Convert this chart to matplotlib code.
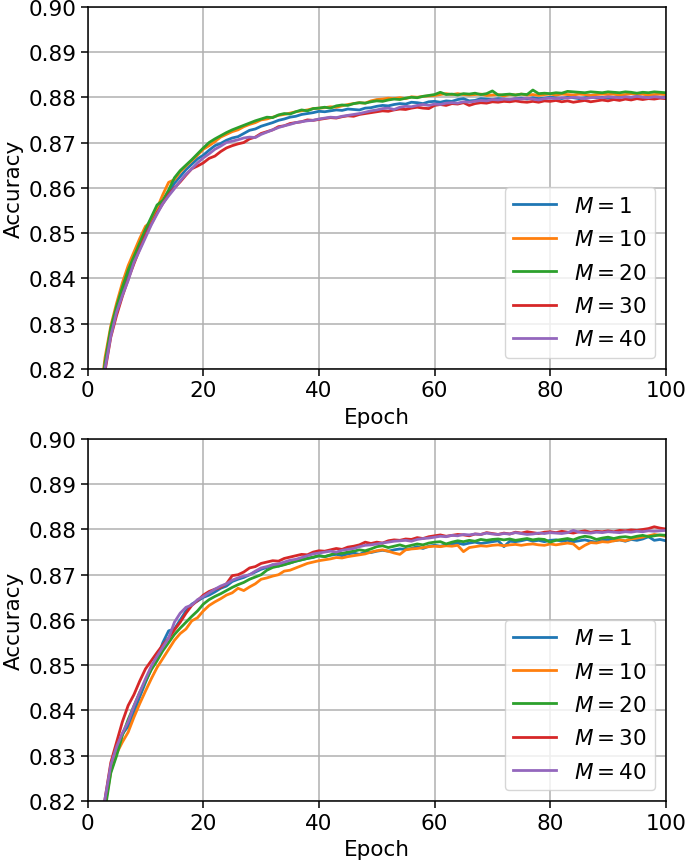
import numpy as np
import matplotlib
matplotlib.use("Agg")
import matplotlib.pyplot as plt

epochs = np.arange(1, 101)
labels = ["$M = 1$", "$M = 10$", "$M = 20$", "$M = 30$", "$M = 40$"]

# ---- top panel ----
top_m1 = [
    0.795, 0.810, 0.8205, 0.8280, 0.8330, 0.8372, 0.8410, 0.8442, 0.8472, 0.8500,
    0.8525, 0.8550, 0.8570, 0.8590, 0.8610, 0.8625, 0.8640, 0.8652, 0.8664, 0.8672,
    0.8683, 0.8693, 0.8698, 0.8705, 0.8710, 0.8713, 0.8720, 0.8727, 0.8730, 0.8736,
    0.8740, 0.8744, 0.8749, 0.8752, 0.8756, 0.8758, 0.8762, 0.8764, 0.8766, 0.8769,
    0.8768, 0.8770, 0.8772, 0.8771, 0.8774, 0.8773, 0.8772, 0.8776, 0.8777, 0.8780,
    0.8782, 0.8781, 0.8784, 0.8786, 0.8785, 0.8789, 0.8788, 0.8786, 0.8790, 0.8791,
    0.8789, 0.8792, 0.8791, 0.8795, 0.8797, 0.8792, 0.8793, 0.8797, 0.8796, 0.8795,
    0.8797, 0.8796, 0.8794, 0.8797, 0.8798, 0.8796, 0.8799, 0.8797, 0.8798, 0.8800,
    0.8799, 0.8797, 0.8800, 0.8799, 0.8797, 0.8799, 0.8801, 0.8799, 0.8800, 0.8798,
    0.8800, 0.8802, 0.8800, 0.8799, 0.8801, 0.8800, 0.8802, 0.8801, 0.8800, 0.8801,
]
top_m10 = [
    0.797, 0.812, 0.8225, 0.8295, 0.8345, 0.8390, 0.8428, 0.8458, 0.8488, 0.8515,
    0.8525, 0.8555, 0.8585, 0.8612, 0.8618, 0.8635, 0.8648, 0.8660, 0.8672, 0.8685,
    0.8693, 0.8702, 0.8712, 0.8718, 0.8724, 0.8728, 0.8735, 0.8740, 0.8744, 0.8750,
    0.8752, 0.8756, 0.8760, 0.8762, 0.8765, 0.8768, 0.8770, 0.8772, 0.8775, 0.8776,
    0.8777, 0.8779, 0.8778, 0.8781, 0.8784, 0.8786, 0.8788, 0.8787, 0.8792, 0.8795,
    0.8796, 0.8798, 0.8797, 0.8799, 0.8797, 0.8801, 0.8800, 0.8802, 0.8803, 0.8804,
    0.8806, 0.8808, 0.8806, 0.8808, 0.8806, 0.8805, 0.8806, 0.8807, 0.8804, 0.8805,
    0.8806, 0.8803, 0.8806, 0.8805, 0.8807, 0.8805, 0.8806, 0.8804, 0.8806, 0.8807,
    0.8805, 0.8807, 0.8806, 0.8805, 0.8807, 0.8806, 0.8804, 0.8806, 0.8807, 0.8806,
    0.8807, 0.8805, 0.8806, 0.8808, 0.8806, 0.8807, 0.8805, 0.8806, 0.8807, 0.8806,
]
top_m20 = [
    0.796, 0.811, 0.8215, 0.8290, 0.8338, 0.8380, 0.8418, 0.8448, 0.8478, 0.8508,
    0.8535, 0.8562, 0.8572, 0.8595, 0.8622, 0.8638, 0.8650, 0.8662, 0.8675, 0.8688,
    0.8700, 0.8708, 0.8715, 0.8722, 0.8728, 0.8733, 0.8738, 0.8743, 0.8748, 0.8752,
    0.8756, 0.8755, 0.8761, 0.8764, 0.8763, 0.8768, 0.8772, 0.8770, 0.8775, 0.8776,
    0.8778, 0.8776, 0.8781, 0.8783, 0.8782, 0.8786, 0.8788, 0.8787, 0.8790, 0.8792,
    0.8791, 0.8794, 0.8796, 0.8795, 0.8798, 0.8800, 0.8799, 0.8802, 0.8804, 0.8806,
    0.8811, 0.8806, 0.8807, 0.8805, 0.8808, 0.8807, 0.8809, 0.8806, 0.8808, 0.8814,
    0.8805, 0.8806, 0.8807, 0.8805, 0.8807, 0.8806, 0.8816, 0.8808, 0.8809, 0.8808,
    0.8810, 0.8809, 0.8813, 0.8812, 0.8811, 0.8810, 0.8812, 0.8811, 0.8810, 0.8812,
    0.8811, 0.8810, 0.8812, 0.8811, 0.8809, 0.8811, 0.8810, 0.8812, 0.8811, 0.8810,
]
top_m30 = [
    0.794, 0.809, 0.8195, 0.8270, 0.8318, 0.8360, 0.8398, 0.8432, 0.8465, 0.8495,
    0.8520, 0.8545, 0.8565, 0.8585, 0.8600, 0.8613, 0.8628, 0.8642, 0.8648, 0.8655,
    0.8665, 0.8670, 0.8680, 0.8688, 0.8693, 0.8697, 0.8700, 0.8708, 0.8712, 0.8720,
    0.8724, 0.8728, 0.8735, 0.8737, 0.8742, 0.8744, 0.8746, 0.8750, 0.8749, 0.8751,
    0.8753, 0.8755, 0.8754, 0.8757, 0.8759, 0.8758, 0.8762, 0.8764, 0.8766, 0.8768,
    0.8770, 0.8769, 0.8772, 0.8774, 0.8773, 0.8776, 0.8778, 0.8776, 0.8775, 0.8782,
    0.8784, 0.8782, 0.8786, 0.8785, 0.8788, 0.8782, 0.8786, 0.8788, 0.8787, 0.8790,
    0.8789, 0.8791, 0.8790, 0.8792, 0.8790, 0.8789, 0.8791, 0.8789, 0.8792, 0.8791,
    0.8793, 0.8790, 0.8792, 0.8789, 0.8791, 0.8793, 0.8790, 0.8792, 0.8794, 0.8792,
    0.8795, 0.8793, 0.8796, 0.8794, 0.8797, 0.8795, 0.8797, 0.8796, 0.8798, 0.8797,
]
top_m40 = [
    0.794, 0.809, 0.8200, 0.8272, 0.8325, 0.8362, 0.8395, 0.8435, 0.8462, 0.8490,
    0.8518, 0.8542, 0.8565, 0.8582, 0.8598, 0.8615, 0.8630, 0.8642, 0.8655, 0.8666,
    0.8675, 0.8685, 0.8692, 0.8700, 0.8703, 0.8706, 0.8710, 0.8712, 0.8711, 0.8718,
    0.8723, 0.8728, 0.8733, 0.8737, 0.8740, 0.8744, 0.8746, 0.8748, 0.8749, 0.8752,
    0.8754, 0.8756, 0.8755, 0.8758, 0.8760, 0.8762, 0.8764, 0.8767, 0.8770, 0.8772,
    0.8775, 0.8776, 0.8773, 0.8778, 0.8780, 0.8779, 0.8782, 0.8784, 0.8782, 0.8785,
    0.8784, 0.8787, 0.8788, 0.8787, 0.8790, 0.8789, 0.8791, 0.8793, 0.8792, 0.8795,
    0.8794, 0.8796, 0.8795, 0.8797, 0.8796, 0.8798, 0.8796, 0.8794, 0.8797, 0.8798,
    0.8797, 0.8799, 0.8798, 0.8800, 0.8799, 0.8797, 0.8799, 0.8800, 0.8799, 0.8801,
    0.8800, 0.8799, 0.8801, 0.8800, 0.8802, 0.8800, 0.8799, 0.8801, 0.8800, 0.8799,
]

# ---- bottom panel ----
bot_m1 = [
    0.793, 0.809, 0.8200, 0.8275, 0.8315, 0.8348, 0.8365, 0.8395, 0.8430, 0.8462,
    0.8492, 0.8515, 0.8550, 0.8576, 0.8580, 0.8600, 0.8620, 0.8635, 0.8642, 0.8650,
    0.8655, 0.8662, 0.8670, 0.8675, 0.8685, 0.8690, 0.8694, 0.8700, 0.8706, 0.8712,
    0.8716, 0.8722, 0.8719, 0.8723, 0.8726, 0.8730, 0.8733, 0.8736, 0.8738, 0.8742,
    0.8740, 0.8743, 0.8745, 0.8742, 0.8746, 0.8748, 0.8745, 0.8750, 0.8749, 0.8752,
    0.8754, 0.8752, 0.8755, 0.8757, 0.8756, 0.8758, 0.8762, 0.8758, 0.8763, 0.8765,
    0.8763, 0.8766, 0.8768, 0.8770, 0.8767, 0.8770, 0.8772, 0.8769, 0.8771, 0.8773,
    0.8775, 0.8762, 0.8774, 0.8773, 0.8775, 0.8778, 0.8774, 0.8776, 0.8773, 0.8776,
    0.8777, 0.8774, 0.8776, 0.8773, 0.8775, 0.8777, 0.8774, 0.8772, 0.8776, 0.8778,
    0.8775, 0.8777, 0.8774, 0.8778, 0.8776, 0.8779, 0.8784, 0.8776, 0.8778, 0.8775,
]
bot_m10 = [
    0.790, 0.807, 0.8190, 0.8265, 0.8305, 0.8330, 0.8352, 0.8385, 0.8415, 0.8443,
    0.8470, 0.8495, 0.8515, 0.8535, 0.8555, 0.8570, 0.8580, 0.8598, 0.8605, 0.8620,
    0.8632, 0.8640, 0.8647, 0.8655, 0.8660, 0.8670, 0.8665, 0.8673, 0.8680, 0.8690,
    0.8693, 0.8697, 0.8700, 0.8708, 0.8710, 0.8715, 0.8720, 0.8725, 0.8728, 0.8731,
    0.8733, 0.8735, 0.8738, 0.8737, 0.8740, 0.8742, 0.8744, 0.8746, 0.8750, 0.8753,
    0.8755, 0.8752, 0.8748, 0.8745, 0.8755, 0.8757, 0.8758, 0.8760, 0.8762, 0.8763,
    0.8762, 0.8764, 0.8763, 0.8765, 0.8751, 0.8760, 0.8762, 0.8764, 0.8763, 0.8765,
    0.8766, 0.8764, 0.8766, 0.8767, 0.8765, 0.8767, 0.8768, 0.8766, 0.8765, 0.8768,
    0.8766, 0.8768, 0.8770, 0.8768, 0.8757, 0.8765, 0.8771, 0.8770, 0.8773, 0.8772,
    0.8775, 0.8777, 0.8775, 0.8779, 0.8781, 0.8783, 0.8786, 0.8789, 0.8787, 0.8785,
]
bot_m20 = [
    0.790, 0.806, 0.8180, 0.8262, 0.8300, 0.8345, 0.8380, 0.8410, 0.8440, 0.8465,
    0.8490, 0.8510, 0.8532, 0.8550, 0.8568, 0.8582, 0.8595, 0.8608, 0.8620, 0.8635,
    0.8645, 0.8652, 0.8658, 0.8665, 0.8672, 0.8678, 0.8683, 0.8690, 0.8695, 0.8700,
    0.8710, 0.8716, 0.8719, 0.8722, 0.8726, 0.8730, 0.8733, 0.8736, 0.8739, 0.8742,
    0.8740, 0.8744, 0.8748, 0.8747, 0.8750, 0.8752, 0.8755, 0.8753, 0.8757, 0.8762,
    0.8764, 0.8760, 0.8763, 0.8766, 0.8762, 0.8765, 0.8768, 0.8766, 0.8770, 0.8772,
    0.8773, 0.8768, 0.8772, 0.8775, 0.8773, 0.8776, 0.8774, 0.8778, 0.8776, 0.8778,
    0.8779, 0.8777, 0.8779, 0.8776, 0.8778, 0.8780, 0.8777, 0.8779, 0.8778, 0.8772,
    0.8776, 0.8778, 0.8780, 0.8777, 0.8782, 0.8785, 0.8783, 0.8778, 0.8781, 0.8783,
    0.8780, 0.8783, 0.8784, 0.8782, 0.8785, 0.8787, 0.8784, 0.8786, 0.8788, 0.8787,
]
bot_m30 = [
    0.792, 0.809, 0.8205, 0.8285, 0.8330, 0.8375, 0.8411, 0.8435, 0.8465, 0.8492,
    0.8510, 0.8528, 0.8545, 0.8560, 0.8578, 0.8595, 0.8615, 0.8632, 0.8643, 0.8655,
    0.8663, 0.8668, 0.8672, 0.8680, 0.8698, 0.8700, 0.8706, 0.8715, 0.8718, 0.8725,
    0.8728, 0.8731, 0.8730, 0.8736, 0.8739, 0.8742, 0.8745, 0.8744, 0.8750, 0.8753,
    0.8752, 0.8755, 0.8758, 0.8756, 0.8761, 0.8763, 0.8766, 0.8772, 0.8769, 0.8772,
    0.8770, 0.8775, 0.8777, 0.8776, 0.8779, 0.8778, 0.8782, 0.8780, 0.8784, 0.8786,
    0.8788, 0.8785, 0.8787, 0.8789, 0.8788, 0.8786, 0.8790, 0.8789, 0.8793, 0.8791,
    0.8789, 0.8792, 0.8790, 0.8794, 0.8792, 0.8795, 0.8793, 0.8791, 0.8794, 0.8795,
    0.8793, 0.8796, 0.8794, 0.8792, 0.8795, 0.8797, 0.8794, 0.8796, 0.8795, 0.8797,
    0.8795, 0.8798, 0.8797, 0.8799, 0.8798, 0.8800, 0.8802, 0.8806, 0.8803, 0.8801,
]
bot_m40 = [
    0.792, 0.809, 0.8205, 0.8280, 0.8320, 0.8350, 0.8375, 0.8410, 0.8440, 0.8470,
    0.8498, 0.8520, 0.8540, 0.8560, 0.8595, 0.8615, 0.8628, 0.8633, 0.8645, 0.8652,
    0.8660, 0.8668, 0.8675, 0.8680, 0.8688, 0.8693, 0.8697, 0.8700, 0.8708, 0.8715,
    0.8718, 0.8722, 0.8724, 0.8728, 0.8732, 0.8734, 0.8738, 0.8742, 0.8746, 0.8748,
    0.8750, 0.8752, 0.8750, 0.8754, 0.8756, 0.8758, 0.8762, 0.8765, 0.8766, 0.8768,
    0.8770, 0.8772, 0.8774, 0.8775, 0.8776, 0.8774, 0.8778, 0.8780, 0.8781, 0.8783,
    0.8785, 0.8784, 0.8787, 0.8786, 0.8789, 0.8788, 0.8790, 0.8789, 0.8792, 0.8790,
    0.8789, 0.8791, 0.8790, 0.8793, 0.8791, 0.8789, 0.8790, 0.8792, 0.8791, 0.8793,
    0.8792, 0.8791, 0.8793, 0.8798, 0.8794, 0.8793, 0.8792, 0.8794, 0.8793, 0.8795,
    0.8794, 0.8793, 0.8795, 0.8794, 0.8796, 0.8795, 0.8797, 0.8796, 0.8797, 0.8798,
]

top_series = [top_m1, top_m10, top_m20, top_m30, top_m40]
bot_series = [bot_m1, bot_m10, bot_m20, bot_m30, bot_m40]
yticks = [0.82, 0.83, 0.84, 0.85, 0.86, 0.87, 0.88, 0.89, 0.90]

plt.rcParams['font.size'] = 15.5
plt.rcParams['axes.linewidth'] = 1.1
plt.rcParams['grid.linewidth'] = 1.1
plt.rcParams['xtick.major.width'] = 1.1
plt.rcParams['ytick.major.width'] = 1.1
plt.rcParams['xtick.major.size'] = 4.8
plt.rcParams['ytick.major.size'] = 4.8

fig = plt.figure(figsize=(6.85, 8.62), dpi=100)
ax1 = fig.add_axes([0.128, 0.571, 0.844, 0.420])
ax2 = fig.add_axes([0.128, 0.0696, 0.844, 0.420])

for ax, series in [(ax1, top_series), (ax2, bot_series)]:
    for vals, lab in zip(series, labels):
        ax.plot(epochs, vals, linewidth=2.0, label=lab)
    ax.set_xlim(0, 100)
    ax.set_ylim(0.82, 0.90)
    ax.set_yticks(yticks)
    ax.set_yticklabels([f"{v:.2f}" for v in yticks])
    ax.set_xlabel('Epoch', labelpad=5)
    ax.set_ylabel('Accuracy', labelpad=3)
    ax.grid(True)
    ax.legend(loc='lower right', fontsize=15.5, labelspacing=0.62)

fig.savefig('out.png', dpi=100)
